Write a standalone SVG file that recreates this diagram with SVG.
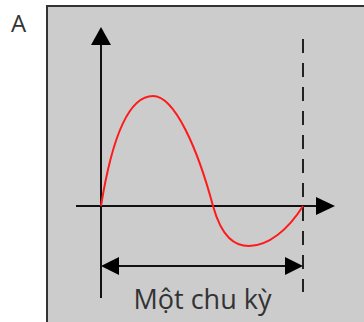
<svg xmlns="http://www.w3.org/2000/svg" width="364" height="322" viewBox="0 0 364 322">
<defs>
<style>
.ax{stroke:#111;stroke-width:2;fill:none}
.dash{stroke:#222;stroke-width:2;stroke-dasharray:14 10;fill:none}
.wave{stroke:#ff1a1a;stroke-width:2;fill:none}
.head{fill:#000}
.lbl{font-family:"Open Sans","Noto Sans",sans-serif;fill:#333}
</style>
</defs>
<rect width="364" height="322" fill="#fff"/>
<g id="panel">
<rect x="47" y="6" width="330" height="330" fill="#cccccc" stroke="#333" stroke-width="2"/>
</g>
<text class="lbl" x="11" y="32" font-size="24">A</text>
<g id="connectors">
<line class="ax" x1="101" y1="44" x2="101" y2="298"/>
<polygon class="head" points="101,27 91,45 111,45"/>
<line class="ax" x1="76" y1="206" x2="317" y2="206"/>
<polygon class="head" points="335,206 316,197 316,215"/>
<line class="dash" x1="303" y1="39" x2="303" y2="292"/>
<line class="ax" x1="115" y1="266" x2="288" y2="266"/>
<polygon class="head" points="101,266 119,257 119,275"/>
<polygon class="head" points="303,266 285,257 285,275"/>
</g>
<g id="wave">
<path class="wave" d="M101,206 C110,150 125,96 153,96 C175,96 198,150 213,206 C222,238 235,246 249,246 C268,246 288,230 303,206"/>
</g>
<text class="lbl" x="202.5" y="309" font-size="27" text-anchor="middle">Một chu kỳ</text>
</svg>
